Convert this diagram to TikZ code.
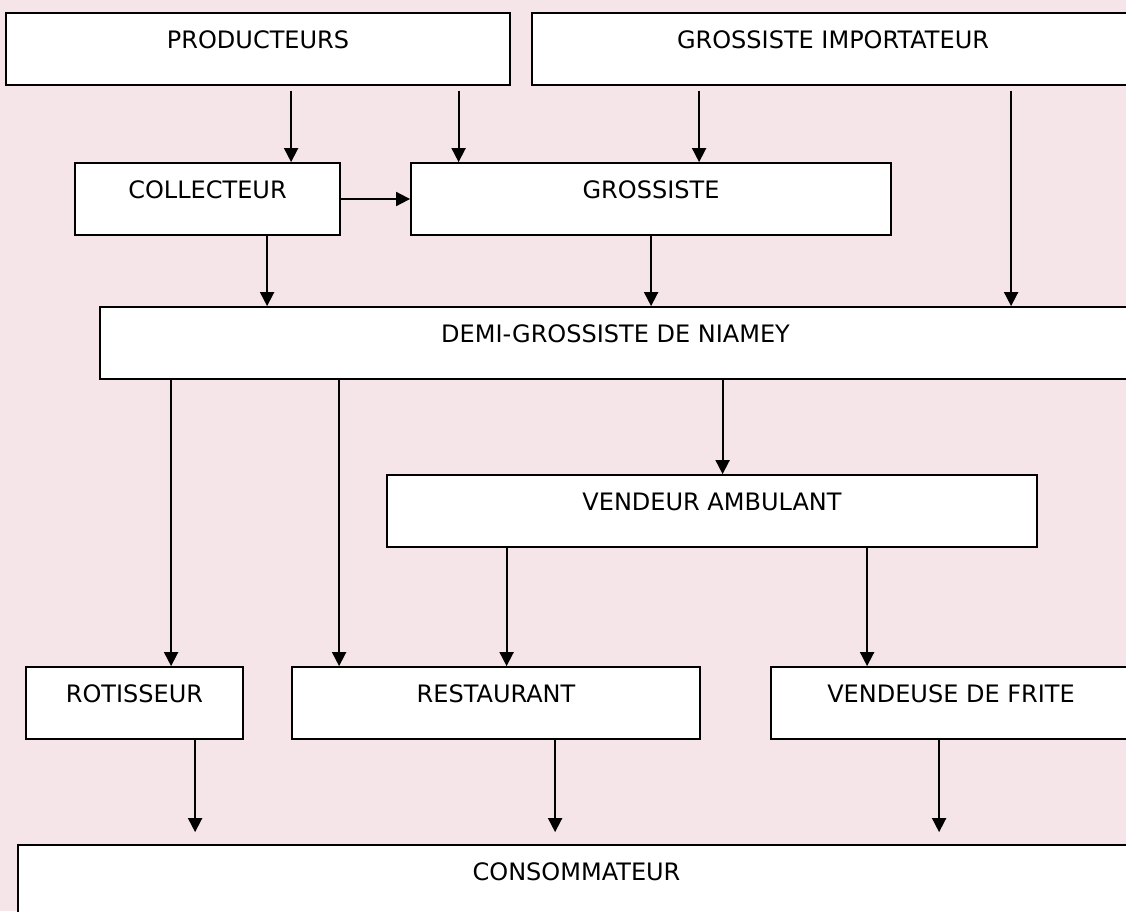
\documentclass[tikz,border=0pt]{standalone}
\usepackage{fontspec}
\setmainfont{DejaVu Sans}
\usetikzlibrary{arrows.meta}
\definecolor{fondrose}{RGB}{245,228,232}

\begin{document}
\begin{tikzpicture}[x=1pt,y=-1pt]

      \useasboundingbox (0,0) rectangle (1126,911);
      \clip (0,0) rectangle (1126,911);
      \fill[fondrose] (0,0) rectangle (1126,911);

      \begin{scope}[every node/.style={draw, fill=white, line width=1.8pt, inner sep=0pt,
          text height=35pt, text depth=37pt, font=\fontsize{24}{28}\selectfont}]
        \node[minimum width=504pt]  (1)  at (258,49)    {PRODUCTEURS};
        \node[minimum width=602pt]  (2)  at (833,49)    {GROSSISTE IMPORTATEUR};
        \node[minimum width=265pt]  (3)  at (207.5,199) {COLLECTEUR};
        \node[minimum width=480pt]  (4)  at (651,199)   {GROSSISTE};
        \node[minimum width=1031pt] (5)  at (615.5,343) {DEMI-GROSSISTE DE NIAMEY};
        \node[minimum width=650pt]  (6)  at (712,511)   {VENDEUR AMBULANT};
        \node[minimum width=217pt]  (7)  at (134.5,703) {ROTISSEUR};
        \node[minimum width=408pt]  (8)  at (496,703)   {RESTAURANT};
        \node[minimum width=360pt]  (9)  at (951,703)   {VENDEUSE DE FRITE};
        \node[minimum width=1117pt] (10) at (576.5,881) {CONSOMMATEUR};
      \end{scope}

      \begin{scope}[every edge/.style={draw, line width=1.8pt, -{Triangle[length=14pt,width=14pt]}}]
        \path ([xshift=286pt,yshift=-5pt]1.south west)   edge ([xshift=217pt]3.north west);
        \path ([xshift=453.5pt,yshift=-5pt]1.south west) edge ([xshift=48.5pt]4.north west);
        \path ([xshift=168pt,yshift=-5pt]2.south west)   edge ([xshift=289pt]4.north west);
        \path ([xshift=480pt,yshift=-5pt]2.south west)   edge ([xshift=912pt]5.north west);
        \path (3.east) edge (4.west);
        \path ([xshift=193pt]3.south west)   edge ([xshift=168pt]5.north west);
        \path ([xshift=241pt]4.south west)   edge ([xshift=552pt]5.north west);
        \path ([xshift=72pt]5.south west)    edge ([xshift=146pt]7.north west);
        \path ([xshift=240pt]5.south west)   edge ([xshift=48pt]8.north west);
        \path ([xshift=623.5pt]5.south west) edge ([xshift=336.5pt]6.north west);
        \path ([xshift=120.5pt]6.south west) edge ([xshift=215.5pt]8.north west);
        \path ([xshift=481pt]6.south west)   edge ([xshift=97pt]9.north west);
        \path ([xshift=170pt]7.south west)   edge ([xshift=178pt,yshift=12pt]10.north west);
        \path ([xshift=264pt]8.south west)   edge ([xshift=538pt,yshift=12pt]10.north west);
        \path ([xshift=169pt]9.south west)   edge ([xshift=922pt,yshift=12pt]10.north west);
      \end{scope}

    \end{tikzpicture}
\end{document}
